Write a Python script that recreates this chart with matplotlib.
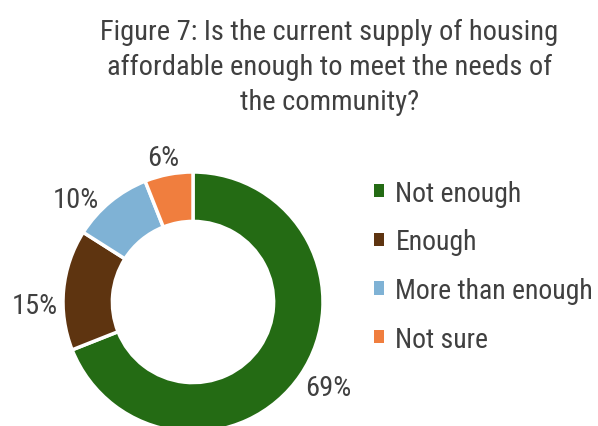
import matplotlib.pyplot as plt
from matplotlib.patches import Patch

plt.rcParams['font.family'] = ['Roboto Condensed', 'Liberation Sans', 'DejaVu Sans']

categories = ['Not enough', 'Enough', 'More than enough', 'Not sure']
shares = [69, 15, 10, 6]
colors = ['#246B14', '#5E3410', '#7FB2D5', '#F07E3E']
title = 'Figure 7: Is the current supply of housing\naffordable enough to meet the needs of\nthe community?'

# where the percentage labels sit (pixels from top-left), as in the original
label_px = [(328, 389), (35, 307), (76, 201), (163, 159)]

W, H = 598, 427
fig = plt.figure(figsize=(W / 100, H / 100), dpi=100)
ax = fig.add_axes([0, 0, 1, 1])

# pie centre at pixel (193, 303 from top), radius 130 px
r_px = 130
cx, cy = 193, 303
wedges, texts = ax.pie(shares, colors=colors, startangle=90, counterclock=False,
                       radius=1, wedgeprops=dict(width=0.38, edgecolor='white', linewidth=2.5),
                       labels=[f'{v}%' for v in shares],
                       textprops=dict(fontsize=20.5, color='#404040'))
for t, (px, py) in zip(texts, label_px):
    t.set_position(((px - cx) / r_px, (cy - py) / r_px))
    t.set_ha('center')
    t.set_va('center')

ax.set_xlim(-cx / r_px, (W - cx) / r_px)
ax.set_ylim(-(H - cy) / r_px, cy / r_px)
ax.set_aspect('equal')
ax.axis('off')

fig.text(0.551, 0.955, title, ha='center', va='top', fontsize=20.5,
         color='#404040', linespacing=1.37)

handles = [Patch(facecolor=c, edgecolor='none') for c in colors]
fig.legend(handles, categories, loc='upper left', bbox_to_anchor=(0.607, 0.603),
           frameon=False, fontsize=20, labelcolor='#404040',
           handlelength=0.35, handleheight=0.35, handletextpad=0.42,
           labelspacing=0.78, borderaxespad=0)

fig.savefig('out.png', dpi=100)
